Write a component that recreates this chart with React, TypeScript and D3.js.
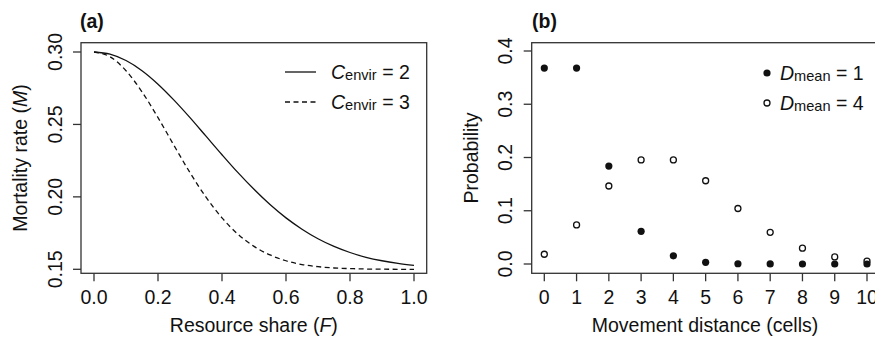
import React from "react";
import * as d3 from "d3";

// panel (a): mortality rate vs resource share
const shareF = [0, 0.05, 0.1, 0.15, 0.2, 0.25, 0.3, 0.35, 0.4, 0.45, 0.5, 0.55, 0.6, 0.65, 0.7, 0.75, 0.8, 0.85, 0.9, 0.95, 1.0];
const mortC2 = [0.3, 0.2985, 0.2941, 0.2871, 0.2778, 0.2668, 0.2547, 0.2419, 0.2291, 0.2167, 0.2052, 0.1947, 0.1855, 0.1777, 0.1711, 0.1658, 0.1616, 0.1583, 0.1559, 0.1541, 0.1527];
const mortC3 = [0.3, 0.2967, 0.2871, 0.2725, 0.2547, 0.2355, 0.2167, 0.1998, 0.1855, 0.1742, 0.1658, 0.1599, 0.1559, 0.1533, 0.1518, 0.1509, 0.1505, 0.1502, 0.1501, 0.15, 0.15];
const ticksA_x = [0, 0.2, 0.4, 0.6, 0.8, 1.0];
const ticksA_y = [0.15, 0.2, 0.25, 0.3];

// panel (b): movement distance probabilities
const distances = [0, 1, 2, 3, 4, 5, 6, 7, 8, 9, 10];
const probD1 = [0.3679, 0.3679, 0.1839, 0.0613, 0.0153, 0.0031, 0.0005, 0.0001, 0.0, 0.0, 0.0];
const probD4 = [0.0183, 0.0733, 0.1465, 0.1954, 0.1954, 0.1563, 0.1042, 0.0595, 0.0298, 0.0132, 0.0053];
const ticksB_y = [0, 0.1, 0.2, 0.3, 0.4];

const FONT = "'Liberation Sans', Arial, sans-serif";
const FS = 19.5;
const INK = "#111";
const AXIS = "#333";

export default function App() {
  // scales for panel (a)
  const xA = d3.scaleLinear().domain([0, 1]).range([94, 414]);
  const yA = d3.scaleLinear().domain([0.15, 0.3]).range([269.3, 52]);
  const boxA = { x0: 81, x1: 426.7, y0: 42.7, y1: 273.3 };

  // scales for panel (b)
  const xB = d3.scaleLinear().domain([0, 10]).range([544.3, 867]);
  const yB = d3.scaleLinear().domain([0, 0.4]).range([264, 51]);
  const boxB = { x0: 531.7, x1: 880, y0: 42.7, y1: 273.3 };

  const line = (ys: number[]) =>
    d3.line<number>()
      .x((_, i) => xA(shareF[i]))
      .y((d) => yA(d))
      .curve(d3.curveMonotoneX)(ys) || "";

  const yTick = (y: number, lx: number, label: string, tickX: number, key: string) => (
    <g key={key}>
      <line x1={tickX - 8} x2={tickX} y1={y} y2={y} stroke={AXIS} strokeWidth={1.3} />
      <text
        transform={`translate(${lx},${y}) rotate(-90)`}
        textAnchor="middle"
        dy="0.35em"
        fontSize={FS}
        fill={INK}
      >
        {label}
      </text>
    </g>
  );

  const xTick = (x: number, label: string, tickY: number, key: string) => (
    <g key={key}>
      <line x1={x} x2={x} y1={tickY} y2={tickY + 8} stroke={AXIS} strokeWidth={1.3} />
      <text x={x} y={297} dy="0.35em" textAnchor="middle" fontSize={FS} fill={INK}>
        {label}
      </text>
    </g>
  );

  return (
    <svg
      width={875}
      height={338}
      style={{ position: "absolute", left: 0, top: 0, background: "#fff" }}
      fontFamily={FONT}
    >
      <rect width={875} height={338} fill="#fff" />

      {/* ---------- panel (a) ---------- */}
      <text x={80} y={28} fontSize={FS} fontWeight="bold" fill={INK}>(a)</text>
      <rect
        x={boxA.x0}
        y={boxA.y0}
        width={boxA.x1 - boxA.x0}
        height={boxA.y1 - boxA.y0}
        fill="none"
        stroke={AXIS}
        strokeWidth={1.3}
      />
      {ticksA_x.map((t) => xTick(xA(t), d3.format(".1f")(t), boxA.y1, "ax" + t))}
      {ticksA_y.map((t) => yTick(yA(t), 55, d3.format(".2f")(t), boxA.x0, "ay" + t))}

      <path d={line(mortC2)} fill="none" stroke={INK} strokeWidth={1.3} />
      <path d={line(mortC3)} fill="none" stroke={INK} strokeWidth={1.3} strokeDasharray="5,3.5" />

      <text x={(boxA.x0 + boxA.x1) / 2} y={332} textAnchor="middle" fontSize={FS} fill={INK}>
        Resource share (<tspan fontStyle="italic">F</tspan>)
      </text>
      <text
        transform={`translate(20,${(boxA.y0 + boxA.y1) / 2}) rotate(-90)`}
        textAnchor="middle"
        dy="0.35em"
        fontSize={FS}
        fill={INK}
      >
        Mortality rate (<tspan fontStyle="italic">M</tspan>)
      </text>

      {/* legend (a) */}
      {[
        { y: 72, dash: undefined, label: "2" },
        { y: 102, dash: "5,3.5", label: "3" },
      ].map((d) => (
        <g key={"la" + d.label}>
          <line x1={285} x2={316} y1={d.y} y2={d.y} stroke={INK} strokeWidth={1.3} strokeDasharray={d.dash} />
          <text x={331} y={d.y} dy="0.35em" fontSize={FS} fill={INK}>
            <tspan fontStyle="italic">C</tspan>
            <tspan fontSize={14.6} dy={1.5}>envir</tspan>
            <tspan dy={-1.5}>{" = " + d.label}</tspan>
          </text>
        </g>
      ))}

      {/* ---------- panel (b) ---------- */}
      <text x={532} y={28} fontSize={FS} fontWeight="bold" fill={INK}>(b)</text>
      <rect
        x={boxB.x0}
        y={boxB.y0}
        width={boxB.x1 - boxB.x0}
        height={boxB.y1 - boxB.y0}
        fill="none"
        stroke={AXIS}
        strokeWidth={1.3}
      />
      {distances.map((t) => xTick(xB(t), String(t), boxB.y1, "bx" + t))}
      {ticksB_y.map((t) => yTick(yB(t), 505, d3.format(".1f")(t), boxB.x0, "by" + t))}

      {probD4.map((p, i) => (
        <circle key={"o" + i} cx={xB(distances[i])} cy={yB(p)} r={3} fill="none" stroke={INK} strokeWidth={1.3} />
      ))}
      {probD1.map((p, i) => (
        <circle key={"f" + i} cx={xB(distances[i])} cy={yB(p)} r={3.6} fill={INK} />
      ))}

      <text x={705} y={332} textAnchor="middle" fontSize={FS} fill={INK}>
        Movement distance (cells)
      </text>
      <text
        transform={`translate(471,${(boxB.y0 + boxB.y1) / 2}) rotate(-90)`}
        textAnchor="middle"
        dy="0.35em"
        fontSize={FS}
        fill={INK}
      >
        Probability
      </text>

      {/* legend (b) */}
      <circle cx={767} cy={73} r={3.6} fill={INK} />
      <circle cx={767} cy={103} r={3} fill="none" stroke={INK} strokeWidth={1.3} />
      {[
        { y: 73, label: "1" },
        { y: 103, label: "4" },
      ].map((d) => (
        <text key={"lb" + d.label} x={780} y={d.y} dy="0.35em" fontSize={FS} fill={INK}>
          <tspan fontStyle="italic">D</tspan>
          <tspan fontSize={14.6} dy={1.5}>mean</tspan>
          <tspan dy={-1.5}>{" = " + d.label}</tspan>
        </text>
      ))}
    </svg>
  );
}
